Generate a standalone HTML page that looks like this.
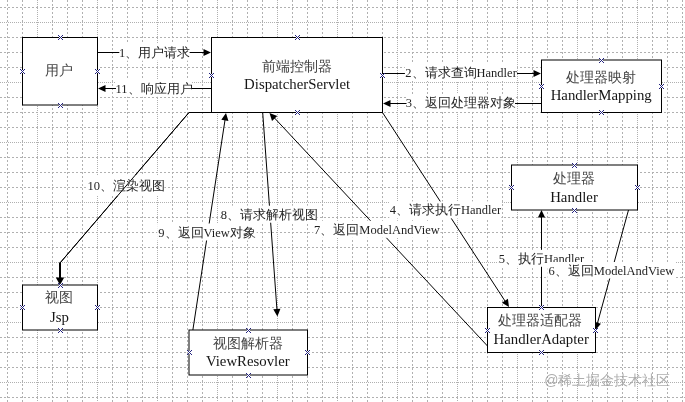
<!DOCTYPE html>
<html><head><meta charset="utf-8"><style>
html,body{margin:0;padding:0;background:#fff;overflow:hidden;}
svg{display:block;will-change:transform;}
text{font-family:"Liberation Serif",serif;text-anchor:middle;}
.b{font-size:14.8px;fill:#151515;}
.c{fill:#444;font-size:14.4px;}
.l{font-size:12.5px;fill:#1e1e1e;}
.w{font-family:"Liberation Sans",sans-serif;font-size:14px;fill:#999;opacity:.8;}
</style></head><body>
<svg width="685" height="402" viewBox="0 0 685 402">
<g stroke="#b0b0b0" shape-rendering="crispEdges">
<path d="M0 7.5H685M0 37.5H685M0 52.5H685M0 67.5H685M0 97.5H685M0 112.5H685M0 127.5H685M0 157.5H685M0 172.5H685M0 187.5H685M0 217.5H685M0 232.5H685M0 247.5H685M0 277.5H685M0 292.5H685M0 307.5H685M0 337.5H685M0 352.5H685M0 367.5H685M0 397.5H685" stroke-dasharray="2 2"/>
<path d="M7.5 0V402M22.5 0V402M52.5 0V402M67.5 0V402M82.5 0V402M112.5 0V402M127.5 0V402M142.5 0V402M172.5 0V402M187.5 0V402M202.5 0V402M232.5 0V402M247.5 0V402M262.5 0V402M292.5 0V402M307.5 0V402M322.5 0V402M352.5 0V402M367.5 0V402M382.5 0V402M412.5 0V402M427.5 0V402M442.5 0V402M472.5 0V402M487.5 0V402M502.5 0V402M532.5 0V402M547.5 0V402M562.5 0V402M592.5 0V402M607.5 0V402M622.5 0V402M652.5 0V402M667.5 0V402M682.5 0V402" stroke-dasharray="2 2"/>
<path d="M0 22.5H685M0 82.5H685M0 142.5H685M0 202.5H685M0 262.5H685M0 322.5H685M0 382.5H685" stroke-dasharray="1 1"/>
<path d="M37.5 0V402M97.5 0V402M157.5 0V402M217.5 0V402M277.5 0V402M337.5 0V402M397.5 0V402M457.5 0V402M517.5 0V402M577.5 0V402M637.5 0V402" stroke-dasharray="1 1"/>
</g>
<g stroke="#000" stroke-width="1" fill="none"><path d="M97.5 52.5H204"/><path d="M211 88.5H104"/><path d="M382.5 73.5H534"/><path d="M541 103.5H390"/><path d="M382.5 112.5L505 301"/><path d="M541.5 307V217"/><path d="M628.5 210L597.5 323"/><path d="M487.5 346L274.5 118"/><path d="M262.7 112.5L276.9 309"/><path d="M189.5 352L225 120"/><path d="M211 112.5H189L60 263"/></g>
<path d="M60 262.5V278" stroke="#000" stroke-width="2" fill="none"/>
<path d="M211.00 52.50L203.50 56.10L203.50 48.90ZM98.00 88.50L105.50 84.90L105.50 92.10ZM541.00 73.50L533.50 77.10L533.50 69.90ZM383.00 103.50L390.50 99.90L390.50 107.10ZM509.00 307.00L501.89 302.68L507.93 298.75ZM541.50 210.00L545.10 217.50L537.90 217.50ZM595.50 330.00L594.02 321.81L600.96 323.72ZM269.50 113.00L277.25 116.02L272.00 120.94ZM277.40 316.40L273.27 309.18L280.45 308.66ZM226.00 113.00L228.43 120.96L221.31 119.87ZM60.00 285.00L55.80 277.50L64.20 277.50Z" fill="#000"/>
<rect x="22.5" y="37.5" width="75.0" height="67.5" fill="#fff" stroke="#000"/>
<rect x="211.5" y="37.5" width="171.0" height="75.0" fill="#fff" stroke="#000"/>
<rect x="541.5" y="60" width="120.0" height="52.5" fill="#fff" stroke="#000"/>
<rect x="511.5" y="165" width="126.0" height="45" fill="#fff" stroke="#000"/>
<rect x="487.5" y="307.5" width="108.0" height="45.0" fill="#fff" stroke="#000"/>
<rect x="22.5" y="285" width="75.0" height="45" fill="#fff" stroke="#000"/>
<rect x="189" y="330" width="118.5" height="45" fill="#fff" stroke="#000"/>
<g class="b">
<text x="58.65" y="74.95" class="c">用户</text>
<text x="296.85" y="70.50" class="c">前端控制器</text>
<text x="600.8" y="81.70" class="c">处理器映射</text>
<text x="574.4" y="183.10" class="c">处理器</text>
<text x="540.35" y="325.20" class="c">处理器适配器</text>
<text x="59.4" y="302.45" class="c">视图</text>
<text x="248" y="347.85" class="c">视图解析器</text>
<text x="297.1" y="89">DispatcherServlet</text>
<text x="601.2" y="100.2">HandlerMapping</text>
<text x="574" y="201.7">Handler</text>
<text x="541.2" y="344">HandlerAdapter</text>
<text x="59.4" y="321.6">Jsp</text>
<text x="247.85" y="366.3">ViewResovler</text>
</g>
<rect x="119.3" y="43.65" width="70.3" height="17.0" fill="#fff"/>
<text x="154.55" y="56.65" class="l">1、用户请求</text>
<rect x="116.0" y="79.8" width="75.80000000000001" height="17.0" fill="#fff"/>
<text x="154.00" y="92.80" class="l">11、响应用户</text>
<rect x="404.90000000000003" y="64.0" width="112.09999999999998" height="17.0" fill="#fff"/>
<text x="461.05" y="77.00" class="l">2、请求查询Handler</text>
<rect x="406.5" y="94.0" width="108.50000000000001" height="17.0" fill="#fff"/>
<text x="460.85" y="107.00" class="l">3、返回处理器对象</text>
<rect x="88.0" y="175" width="76.4" height="21" fill="#fff"/>
<text x="126.30" y="189.60" class="l">10、渲染视图</text>
<path d="M189 112.5L60 263" stroke="#000" fill="none"/>
<rect x="221.0" y="205.7" width="96.39999999999999" height="17.0" fill="#fff"/>
<text x="269.30" y="218.70" class="l">8、请求解析视图</text>
<rect x="157.20000000000002" y="223.5" width="99.49999999999999" height="17.0" fill="#fff"/>
<text x="207.05" y="236.50" class="l">9、返回View对象</text>
<rect x="389.3" y="201.4" width="112.00000000000001" height="17.0" fill="#fff"/>
<text x="445.40" y="214.40" class="l">4、请求执行Handler</text>
<rect x="313.3" y="220.8" width="127.09999999999998" height="17.0" fill="#fff"/>
<text x="376.95" y="233.80" class="l">7、返回ModelAndView</text>
<rect x="498.2" y="249.8" width="86.30000000000003" height="17.0" fill="#fff"/>
<text x="541.45" y="262.80" class="l">5、执行Handler</text>
<rect x="547.3" y="262" width="128.09999999999997" height="16.5" fill="#fff"/>
<text x="611.45" y="274.80" class="l">6、返回ModelAndView</text>
<g shape-rendering="crispEdges"><path d="M59 36h3v3h-3zM59 104h3v3h-3zM21 70h3v3h-3zM96 70h3v3h-3zM296 36h3v3h-3zM296 111h3v3h-3zM210 74h3v3h-3zM381 74h3v3h-3zM600 59h3v3h-3zM600 111h3v3h-3zM540 85h3v3h-3zM660 85h3v3h-3zM573 164h3v3h-3zM573 209h3v3h-3zM510 186h3v3h-3zM636 186h3v3h-3zM540 306h3v3h-3zM540 351h3v3h-3zM486 329h3v3h-3zM594 329h3v3h-3zM59 284h3v3h-3zM59 329h3v3h-3zM21 306h3v3h-3zM96 306h3v3h-3zM247 329h3v3h-3zM247 374h3v3h-3zM188 351h3v3h-3zM306 351h3v3h-3z" fill="#fff"/><path d="M58 35h1v1h-1zM58 39h1v1h-1zM59 36h1v1h-1zM59 38h1v1h-1zM60 37h1v1h-1zM61 38h1v1h-1zM61 36h1v1h-1zM62 39h1v1h-1zM62 35h1v1h-1zM58 103h1v1h-1zM58 107h1v1h-1zM59 104h1v1h-1zM59 106h1v1h-1zM60 105h1v1h-1zM61 106h1v1h-1zM61 104h1v1h-1zM62 107h1v1h-1zM62 103h1v1h-1zM20 69h1v1h-1zM20 73h1v1h-1zM21 70h1v1h-1zM21 72h1v1h-1zM22 71h1v1h-1zM23 72h1v1h-1zM23 70h1v1h-1zM24 73h1v1h-1zM24 69h1v1h-1zM95 69h1v1h-1zM95 73h1v1h-1zM96 70h1v1h-1zM96 72h1v1h-1zM97 71h1v1h-1zM98 72h1v1h-1zM98 70h1v1h-1zM99 73h1v1h-1zM99 69h1v1h-1zM295 35h1v1h-1zM295 39h1v1h-1zM296 36h1v1h-1zM296 38h1v1h-1zM297 37h1v1h-1zM298 38h1v1h-1zM298 36h1v1h-1zM299 39h1v1h-1zM299 35h1v1h-1zM295 110h1v1h-1zM295 114h1v1h-1zM296 111h1v1h-1zM296 113h1v1h-1zM297 112h1v1h-1zM298 113h1v1h-1zM298 111h1v1h-1zM299 114h1v1h-1zM299 110h1v1h-1zM209 73h1v1h-1zM209 77h1v1h-1zM210 74h1v1h-1zM210 76h1v1h-1zM211 75h1v1h-1zM212 76h1v1h-1zM212 74h1v1h-1zM213 77h1v1h-1zM213 73h1v1h-1zM380 73h1v1h-1zM380 77h1v1h-1zM381 74h1v1h-1zM381 76h1v1h-1zM382 75h1v1h-1zM383 76h1v1h-1zM383 74h1v1h-1zM384 77h1v1h-1zM384 73h1v1h-1zM599 58h1v1h-1zM599 62h1v1h-1zM600 59h1v1h-1zM600 61h1v1h-1zM601 60h1v1h-1zM602 61h1v1h-1zM602 59h1v1h-1zM603 62h1v1h-1zM603 58h1v1h-1zM599 110h1v1h-1zM599 114h1v1h-1zM600 111h1v1h-1zM600 113h1v1h-1zM601 112h1v1h-1zM602 113h1v1h-1zM602 111h1v1h-1zM603 114h1v1h-1zM603 110h1v1h-1zM539 84h1v1h-1zM539 88h1v1h-1zM540 85h1v1h-1zM540 87h1v1h-1zM541 86h1v1h-1zM542 87h1v1h-1zM542 85h1v1h-1zM543 88h1v1h-1zM543 84h1v1h-1zM659 84h1v1h-1zM659 88h1v1h-1zM660 85h1v1h-1zM660 87h1v1h-1zM661 86h1v1h-1zM662 87h1v1h-1zM662 85h1v1h-1zM663 88h1v1h-1zM663 84h1v1h-1zM572 163h1v1h-1zM572 167h1v1h-1zM573 164h1v1h-1zM573 166h1v1h-1zM574 165h1v1h-1zM575 166h1v1h-1zM575 164h1v1h-1zM576 167h1v1h-1zM576 163h1v1h-1zM572 208h1v1h-1zM572 212h1v1h-1zM573 209h1v1h-1zM573 211h1v1h-1zM574 210h1v1h-1zM575 211h1v1h-1zM575 209h1v1h-1zM576 212h1v1h-1zM576 208h1v1h-1zM509 185h1v1h-1zM509 189h1v1h-1zM510 186h1v1h-1zM510 188h1v1h-1zM511 187h1v1h-1zM512 188h1v1h-1zM512 186h1v1h-1zM513 189h1v1h-1zM513 185h1v1h-1zM635 185h1v1h-1zM635 189h1v1h-1zM636 186h1v1h-1zM636 188h1v1h-1zM637 187h1v1h-1zM638 188h1v1h-1zM638 186h1v1h-1zM639 189h1v1h-1zM639 185h1v1h-1zM539 305h1v1h-1zM539 309h1v1h-1zM540 306h1v1h-1zM540 308h1v1h-1zM541 307h1v1h-1zM542 308h1v1h-1zM542 306h1v1h-1zM543 309h1v1h-1zM543 305h1v1h-1zM539 350h1v1h-1zM539 354h1v1h-1zM540 351h1v1h-1zM540 353h1v1h-1zM541 352h1v1h-1zM542 353h1v1h-1zM542 351h1v1h-1zM543 354h1v1h-1zM543 350h1v1h-1zM485 328h1v1h-1zM485 332h1v1h-1zM486 329h1v1h-1zM486 331h1v1h-1zM487 330h1v1h-1zM488 331h1v1h-1zM488 329h1v1h-1zM489 332h1v1h-1zM489 328h1v1h-1zM593 328h1v1h-1zM593 332h1v1h-1zM594 329h1v1h-1zM594 331h1v1h-1zM595 330h1v1h-1zM596 331h1v1h-1zM596 329h1v1h-1zM597 332h1v1h-1zM597 328h1v1h-1zM58 283h1v1h-1zM58 287h1v1h-1zM59 284h1v1h-1zM59 286h1v1h-1zM60 285h1v1h-1zM61 286h1v1h-1zM61 284h1v1h-1zM62 287h1v1h-1zM62 283h1v1h-1zM58 328h1v1h-1zM58 332h1v1h-1zM59 329h1v1h-1zM59 331h1v1h-1zM60 330h1v1h-1zM61 331h1v1h-1zM61 329h1v1h-1zM62 332h1v1h-1zM62 328h1v1h-1zM20 305h1v1h-1zM20 309h1v1h-1zM21 306h1v1h-1zM21 308h1v1h-1zM22 307h1v1h-1zM23 308h1v1h-1zM23 306h1v1h-1zM24 309h1v1h-1zM24 305h1v1h-1zM95 305h1v1h-1zM95 309h1v1h-1zM96 306h1v1h-1zM96 308h1v1h-1zM97 307h1v1h-1zM98 308h1v1h-1zM98 306h1v1h-1zM99 309h1v1h-1zM99 305h1v1h-1zM246 328h1v1h-1zM246 332h1v1h-1zM247 329h1v1h-1zM247 331h1v1h-1zM248 330h1v1h-1zM249 331h1v1h-1zM249 329h1v1h-1zM250 332h1v1h-1zM250 328h1v1h-1zM246 373h1v1h-1zM246 377h1v1h-1zM247 374h1v1h-1zM247 376h1v1h-1zM248 375h1v1h-1zM249 376h1v1h-1zM249 374h1v1h-1zM250 377h1v1h-1zM250 373h1v1h-1zM187 350h1v1h-1zM187 354h1v1h-1zM188 351h1v1h-1zM188 353h1v1h-1zM189 352h1v1h-1zM190 353h1v1h-1zM190 351h1v1h-1zM191 354h1v1h-1zM191 350h1v1h-1zM305 350h1v1h-1zM305 354h1v1h-1zM306 351h1v1h-1zM306 353h1v1h-1zM307 352h1v1h-1zM308 353h1v1h-1zM308 351h1v1h-1zM309 354h1v1h-1zM309 350h1v1h-1z" fill="#23237f"/></g>
<text x="607.3" y="384.8" class="w">@稀土掘金技术社区</text>
</svg></body></html>
